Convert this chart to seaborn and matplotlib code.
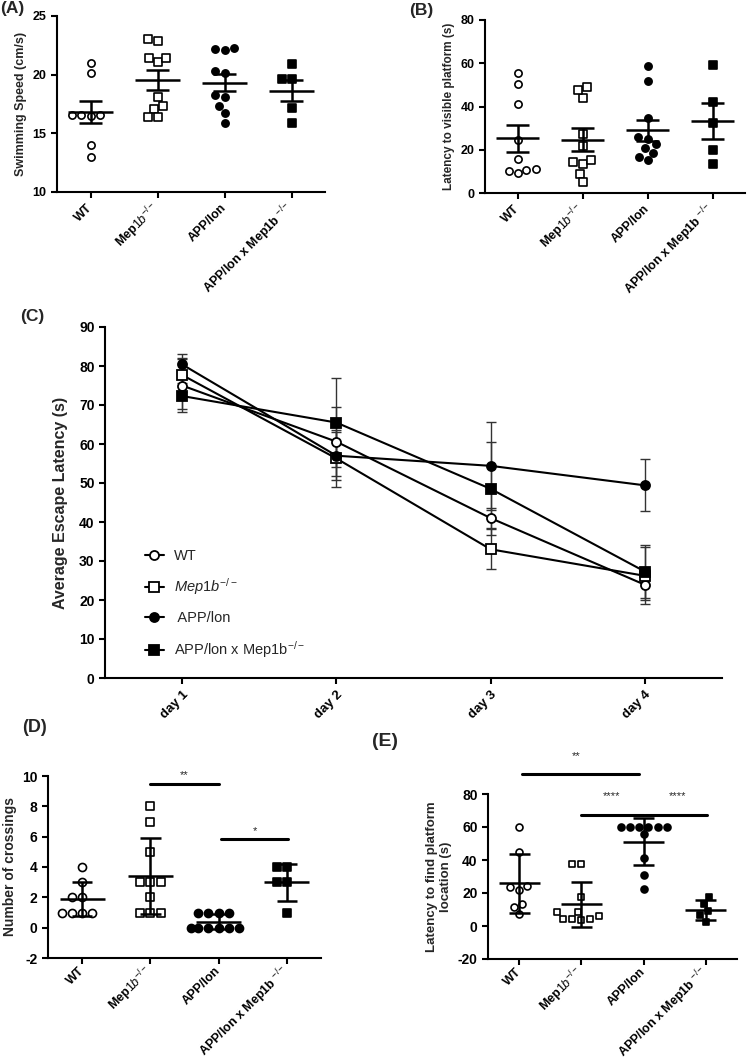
import numpy as np
import pandas as pd
import matplotlib
matplotlib.use('Agg')
import matplotlib.pyplot as plt
import seaborn as sns
from matplotlib import font_manager

# =============================================================================
# Data
# =============================================================================
groups = ['WT', 'Mep1b', 'APP/lon', 'APPxMep1b']
group_labels = ['WT', r'Mep$\mathit{1b}^{-/-}$', 'APP/lon', r'APP/lon x Mep1b $^{-/-}$']
markers = ['o', 's', 'o', 's']
filled = [False, False, True, True]

# (A) swimming speed (cm/s)
speed_wt = [21.0, 20.1, 16.6, 16.6, 16.6, 16.5, 14.0, 13.0]
speed_mep = [23.0, 22.9, 21.4, 21.1, 21.4, 18.1, 17.1, 17.3, 16.4, 16.4]
speed_app = [22.3, 22.1, 22.2, 20.3, 20.1, 18.1, 18.3, 17.3, 16.7, 15.9]
speed_dko = [20.9, 19.6, 19.6, 17.2, 15.9]

# (B) latency to visible platform (s)
visible_wt = [55.6, 50.3, 41.1, 24.7, 15.8, 10.5, 9.1, 10.2, 11.0]
visible_mep = [48.8, 44.0, 47.6, 27.2, 21.6, 14.5, 13.6, 15.1, 9.0, 5.1]
visible_app = [58.5, 51.7, 34.6, 25.9, 25.0, 22.5, 20.8, 18.7, 15.3, 16.7]
visible_dko = [59.1, 42.1, 32.4, 19.7, 13.3]

# (C) average escape latency (s), mean and SEM per day
days = ['day 1', 'day 2', 'day 3', 'day 4']
escape_wt = [75.0, 60.6, 41.0, 23.9]
escape_wt_err = [6.8, 8.9, 2.5, 4.0]
escape_mep = [77.7, 56.3, 33.0, 26.2]
escape_mep_err = [4.3, 7.3, 5.1, 7.3]
escape_app = [80.4, 57.0, 54.4, 49.4]
escape_app_err = [2.7, 6.2, 11.2, 6.7]
escape_dko = [72.3, 65.5, 48.5, 27.3]
escape_dko_err = [3.3, 11.5, 11.9, 6.8]
legend_labels = ['WT', r'$\mathit{Mep1b}^{-/-}$', ' APP/lon', r'APP/lon x Mep1b$^{-/-}$']

# (D) number of crossings
cross_wt = [4, 3, 2, 2, 1, 1, 1, 1]
cross_mep = [8, 7, 5, 3, 3, 3, 2, 1, 1, 1]
cross_app = [1, 1, 1, 1, 0, 0, 0, 0, 0, 0]
cross_dko = [4, 4, 3, 3, 1]

# (E) latency to find platform location (s)
probe_wt = [60.2, 44.6, 23.5, 22.1, 24.5, 13.2, 7.5, 11.6]
probe_mep = [37.3, 37.3, 17.6, 8.3, 5.9, 4.1, 3.4, 4.1, 4.5, 8.3]
probe_app = [60, 60, 60, 60, 60, 60, 55.6, 41.4, 30.8, 22.7]
probe_dko = [17.6, 13.6, 9.1, 6.5, 2.4]

# =============================================================================
# Style
# =============================================================================
sns.set_theme(style='ticks')
font_names = {f.name for f in font_manager.fontManager.ttflist}
narrow = 'Liberation Sans Narrow' if 'Liberation Sans Narrow' in font_names else 'Liberation Sans'
plt.rcParams['font.family'] = ['Liberation Sans', 'DejaVu Sans']
plt.rcParams['mathtext.fontset'] = 'custom'
plt.rcParams['mathtext.rm'] = 'Liberation Sans'
plt.rcParams['mathtext.it'] = 'Liberation Sans:italic'
plt.rcParams['mathtext.bf'] = 'Liberation Sans:bold'
plt.rcParams['axes.linewidth'] = 1.5
plt.rcParams['xtick.major.width'] = 1.5
plt.rcParams['ytick.major.width'] = 1.5
plt.rcParams['xtick.major.size'] = 4
plt.rcParams['ytick.major.size'] = 4
plt.rcParams['xtick.color'] = 'black'
plt.rcParams['ytick.color'] = 'black'
plt.rcParams['axes.edgecolor'] = 'black'

fig = plt.figure(figsize=(7.47, 10.63), dpi=100)
W, H = 747.0, 1063.0


def px_axes(left, top, right, bottom):
    return fig.add_axes([left / W, 1 - bottom / H, (right - left) / W, (bottom - top) / H])


def dot_panel(ax, values, err, size, half=0.33, cap=0.17, tick_fs=9, pad=6):
    df = pd.DataFrame({'group': np.repeat(groups, [len(v) for v in values]),
                       'value': np.concatenate(values)})
    for i, g in enumerate(groups):
        sub = df[df['group'] == g]
        sns.swarmplot(data=sub, x='group', y='value', order=groups, ax=ax,
                      marker=markers[i], color='black' if filled[i] else 'white',
                      edgecolor='black', linewidth=1.2, size=size, zorder=2)
    stats = df.groupby('group', sort=False)['value'].agg(['mean', 'std', 'count'])
    for i, g in enumerate(groups):
        m = stats.loc[g, 'mean']
        e = stats.loc[g, 'std']
        if err == 'se':
            e = e / np.sqrt(stats.loc[g, 'count'])
        ax.hlines(m, i - half, i + half, color='black', lw=1.8, zorder=3)
        ax.vlines(i, m - e, m + e, color='black', lw=1.8, zorder=3)
        ax.hlines([m - e, m + e], i - cap, i + cap, color='black', lw=1.8, zorder=3)
    ax.set_xlim(-0.5, 3.5)
    ax.set_xlabel('')
    ax.set_xticks(range(4))
    ax.set_xticklabels(group_labels, rotation=45, ha='right', va='center',
                       rotation_mode='anchor', fontsize=tick_fs, fontweight='bold')
    ax.tick_params(axis='x', pad=pad)
    sns.despine(ax=ax)


# (A)
ax_a = px_axes(57, 16, 325, 192)
dot_panel(ax_a, [speed_wt, speed_mep, speed_app, speed_dko], 'se', 5.2)
ax_a.set_ylim(10, 25)
ax_a.set_yticks([10, 15, 20, 25])
ax_a.set_yticklabels(['10', '15', '20', '25'], fontsize=9, fontweight='bold')
ax_a.set_ylabel('Swimming Speed (cm/s)', fontsize=9, fontweight='bold')

# (B)
ax_b = px_axes(485, 20, 745, 193)
dot_panel(ax_b, [visible_wt, visible_mep, visible_app, visible_dko], 'se', 5.2)
ax_b.set_ylim(0, 80)
ax_b.set_yticks([0, 20, 40, 60, 80])
ax_b.set_yticklabels(['0', '20', '40', '60', '80'], fontsize=9, fontweight='bold')
ax_b.set_ylabel('Latency to visible platform (s)', fontsize=8.5, fontweight='bold')

# (C)
ax_c = px_axes(105, 327, 722, 678)
series = [(escape_wt, escape_wt_err, 'o', False),
          (escape_mep, escape_mep_err, 's', False),
          (escape_app, escape_app_err, 'o', True),
          (escape_dko, escape_dko_err, 's', True)]
for (vals, errs, mk, fill), lab in zip(series, legend_labels):
    ax_c.errorbar(days, vals, yerr=errs, fmt='none', ecolor='#333333', elinewidth=1,
                  capsize=3.5, capthick=1, zorder=1)
for (vals, errs, mk, fill), lab in zip(series, legend_labels):
    sns.lineplot(x=days, y=vals, ax=ax_c, color='black', linewidth=1.5, marker=mk,
                 markersize=6.5, markerfacecolor='black' if fill else 'white',
                 markeredgecolor='black', markeredgewidth=1.3, label=lab, sort=False, zorder=3)
ax_c.set_xlim(-0.5, 3.5)
ax_c.set_ylim(0, 90)
ax_c.set_yticks(range(0, 91, 10))
ax_c.set_yticklabels([str(v) for v in range(0, 91, 10)], fontsize=10, fontweight='bold', family=narrow)
ax_c.set_xticks(range(4))
ax_c.set_xticklabels(days, rotation=45, ha='right', rotation_mode='anchor', fontsize=9.5,
                     fontweight='bold', family=narrow)
ax_c.set_ylabel('Average Escape Latency (s)', fontsize=13 if narrow != 'Liberation Sans' else 11.5,
                fontweight='bold', family=narrow, labelpad=8)
ax_c.legend(loc='upper left', bbox_to_anchor=(0.055, 0.385), frameon=False, borderaxespad=0,
            handlelength=1.3, handletextpad=0.7, labelspacing=0.95,
            prop={'family': narrow, 'size': 10.5})
sns.despine(ax=ax_c)

# (D)
ax_d = px_axes(48, 776, 321, 958)
dot_panel(ax_d, [cross_wt, cross_mep, cross_app, cross_dko], 'sd', 5.8, cap=0.15,
          tick_fs=9, pad=4)
ax_d.set_ylim(-2, 10)
ax_d.set_yticks(range(-2, 11, 2))
ax_d.set_yticklabels([str(v) for v in range(-2, 11, 2)], fontsize=10, fontweight='bold')
ax_d.set_ylabel('Number of crossings', fontsize=10, fontweight='bold')
ax_d.plot([1, 2], [9.5, 9.5], color='black', lw=2.2)
ax_d.text(1.5, 10.05, '**', ha='center', va='center', fontsize=8)
ax_d.plot([2.04, 3.02], [5.85, 5.85], color='black', lw=2.2)
ax_d.text(2.53, 6.4, '*', ha='center', va='center', fontsize=8)

# (E)
ax_e = px_axes(488, 794, 737, 959)
dot_panel(ax_e, [probe_wt, probe_mep, probe_app, probe_dko], 'sd', 5.0, tick_fs=9, pad=4)
ax_e.set_ylim(-20, 80)
ax_e.set_yticks(range(-20, 81, 20))
ax_e.set_yticklabels([str(v) for v in range(-20, 81, 20)], fontsize=10, fontweight='bold')
ax_e.set_ylabel('Latency to find platform\nlocation (s)', fontsize=9.5, fontweight='bold')
ax_e.plot([0.05, 1.92], [91.9, 91.9], color='black', lw=2.2, clip_on=False)
ax_e.text(0.91, 103, '**', ha='center', va='center', fontsize=8)
ax_e.plot([1.0, 2.0], [67.3, 67.3], color='black', lw=2.2)
ax_e.plot([2.03, 3.02], [67.3, 67.3], color='black', lw=2.2)
ax_e.text(1.48, 78.9, '****', ha='center', va='center', fontsize=8)
ax_e.text(2.54, 78.9, '****', ha='center', va='center', fontsize=8)

# panel letters
for lab, x, y, fs in [('(A)', 0, 8, 12.5), ('(B)', 409, 10, 12.5), ('(C)', 20, 316, 12.5),
                      ('(D)', 22, 727, 13), ('(E)', 372, 742, 14)]:
    fig.text(x / W, 1 - y / H, lab, fontsize=fs, fontweight='bold', ha='left', va='center')

fig.savefig('out.png', dpi=100)
